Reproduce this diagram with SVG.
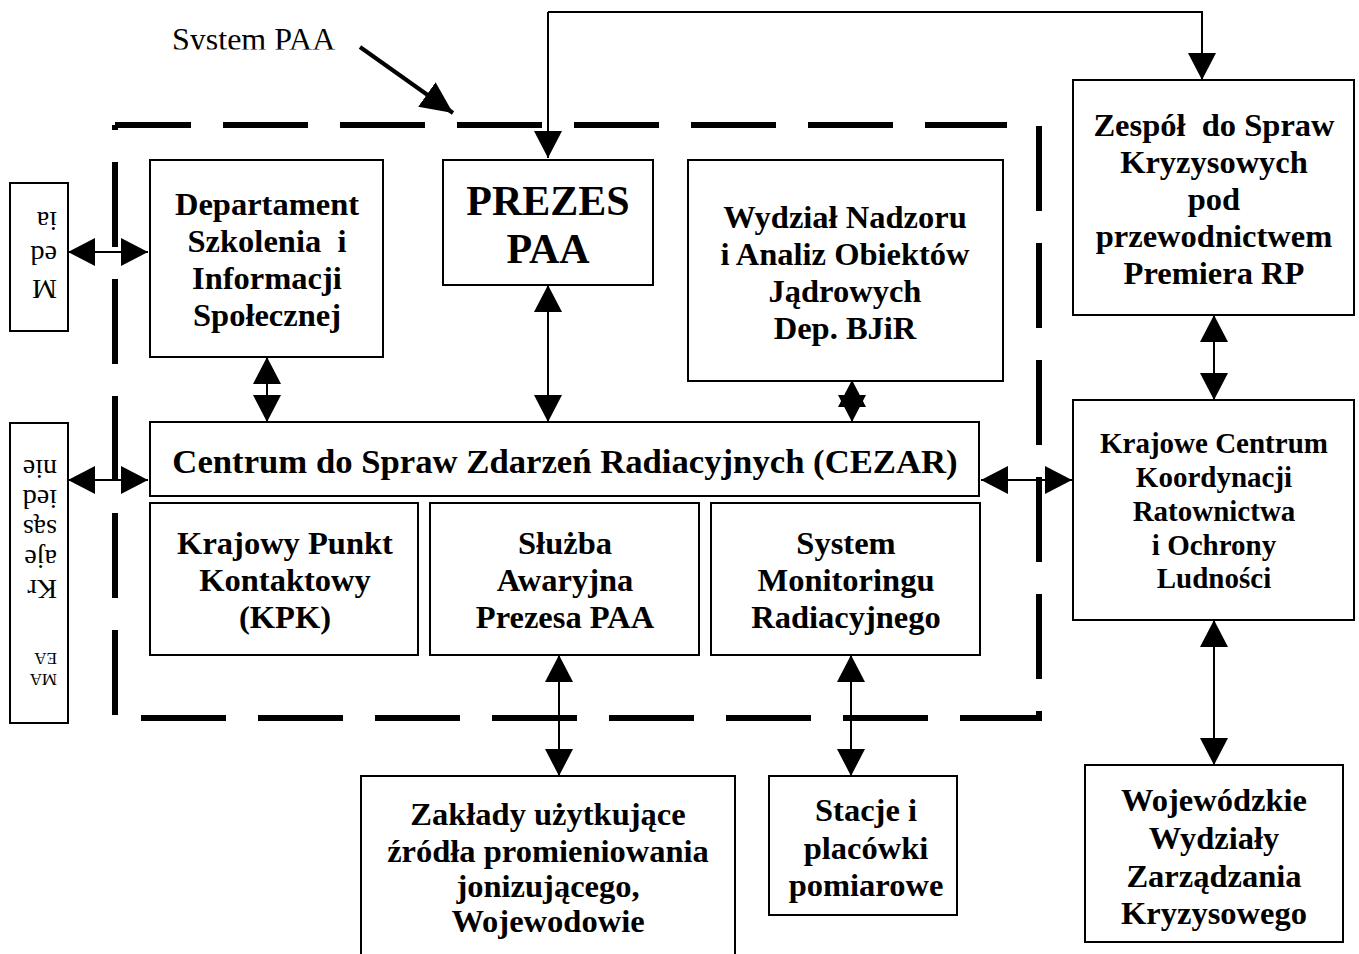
<svg xmlns="http://www.w3.org/2000/svg" width="1359" height="954" viewBox="0 0 1359 954">
<defs>
<style>
.box{fill:#fff;stroke:#000;stroke-width:2}
.t{font-family:"Liberation Serif","Times New Roman",serif;font-weight:bold;font-size:32.5px;text-anchor:middle;fill:#000;white-space:pre}
.r{font-family:"Liberation Serif","Times New Roman",serif;font-size:28px;fill:#000}
.dash{stroke:#000;stroke-width:6;fill:none;stroke-dasharray:85 32}
.c{stroke:#000;stroke-width:2;fill:none}
</style>
<marker id="ah" viewBox="0 0 27 28" refX="27" refY="14" markerWidth="27" markerHeight="28" markerUnits="userSpaceOnUse" orient="auto-start-reverse">
<path d="M0,0 L27,14 L0,28 Z" fill="#000"/>
</marker>
<marker id="ah2" viewBox="0 0 32 30" refX="32" refY="15" markerWidth="32" markerHeight="30" markerUnits="userSpaceOnUse" orient="auto">
<path d="M0,0 L32,15 L0,30 Z" fill="#000"/>
</marker>
<clipPath id="clipLabel"><rect x="150" y="0" width="220" height="49.5"/></clipPath>
</defs>

<g id="system-boundary">
<line class="dash" x1="115" y1="125" x2="1007" y2="125" stroke-dashoffset="9"/>
<line class="dash" x1="115" y1="715" x2="115" y2="125"/>
<line class="dash" x1="1039" y1="126" x2="1039" y2="721"/>
<line class="dash" x1="141" y1="718" x2="1042" y2="718"/>
</g>

<g id="label-system-paa">
<text x="172" y="50" clip-path="url(#clipLabel)" style="font-family:'Liberation Serif','Times New Roman',serif;font-size:32px;fill:#000">System PAA</text>
<line x1="360" y1="47" x2="453" y2="113" stroke="#000" stroke-width="4" marker-end="url(#ah2)"/>
</g>

<g id="connectors">
<path class="c" d="M548,12 V158" marker-end="url(#ah)"/>
<path class="c" d="M548,12 H1202 V80" marker-end="url(#ah)"/>
<line class="c" x1="68" y1="252" x2="148" y2="252" marker-start="url(#ah)" marker-end="url(#ah)"/>
<line class="c" x1="68" y1="480" x2="148" y2="480" marker-start="url(#ah)" marker-end="url(#ah)"/>
<line class="c" x1="267" y1="357" x2="267" y2="422" marker-start="url(#ah)" marker-end="url(#ah)"/>
<line class="c" x1="548" y1="285" x2="548" y2="422" marker-start="url(#ah)" marker-end="url(#ah)"/>
<line class="c" x1="852" y1="380" x2="852" y2="422" marker-start="url(#ah)" marker-end="url(#ah)"/>
<line class="c" x1="981" y1="480" x2="1072" y2="480" marker-start="url(#ah)" marker-end="url(#ah)"/>
<line class="c" x1="1214" y1="315" x2="1214" y2="400" marker-start="url(#ah)" marker-end="url(#ah)"/>
<line class="c" x1="1214" y1="620" x2="1214" y2="765" marker-start="url(#ah)" marker-end="url(#ah)"/>
<line class="c" x1="559" y1="655" x2="559" y2="776" marker-start="url(#ah)" marker-end="url(#ah)"/>
<line class="c" x1="851" y1="655" x2="851" y2="776" marker-start="url(#ah)" marker-end="url(#ah)"/>
</g>

<g id="media">
<rect class="box" x="10" y="183" width="58" height="148"/>
<g transform="rotate(180 39 257)">
<text class="r" x="21" y="234">M</text>
<text class="r" x="21" y="268">ed</text>
<text class="r" x="21" y="302">ia</text>
</g>
</g>

<g id="kraje-sasiednie">
<rect class="box" x="10" y="423" width="58" height="300"/>
<g transform="rotate(180 39 573)">
<text class="r" x="21" y="472" style="font-size:17px">MA</text>
<text class="r" x="21" y="493" style="font-size:17px">EA</text>
<text class="r" x="21" y="566">Kr</text>
<text class="r" x="21" y="596">aje</text>
<text class="r" x="21" y="626">sąs</text>
<text class="r" x="21" y="656">ied</text>
<text class="r" x="21" y="686">nie</text>
</g>
</g>

<g id="departament">
<rect class="box" x="150" y="160" width="233" height="197"/>
<text class="t" x="267" y="215">Departament</text>
<text class="t" x="267" y="252">Szkolenia  i</text>
<text class="t" x="267" y="289">Informacji</text>
<text class="t" x="267" y="326">Społecznej</text>
</g>

<g id="prezes">
<rect class="box" x="443" y="160" width="210" height="125"/>
<text class="t" x="548" y="215" style="font-size:42px">PREZES</text>
<text class="t" x="548" y="263" style="font-size:42px">PAA</text>
</g>

<g id="wydzial">
<rect class="box" x="688" y="160" width="315" height="221"/>
<text class="t" x="845" y="228">Wydział Nadzoru</text>
<text class="t" x="845" y="265">i Analiz Obiektów</text>
<text class="t" x="845" y="302">Jądrowych</text>
<text class="t" x="845" y="339">Dep. BJiR</text>
</g>

<g id="cezar">
<rect class="box" x="150" y="422" width="829" height="74"/>
<text class="t" x="565" y="473" style="font-size:34.7px">Centrum do Spraw Zdarzeń Radiacyjnych (CEZAR)</text>
</g>

<g id="kpk">
<rect class="box" x="150" y="503" width="268" height="152"/>
<text class="t" x="285" y="554">Krajowy Punkt</text>
<text class="t" x="285" y="591">Kontaktowy</text>
<text class="t" x="285" y="628">(KPK)</text>
</g>

<g id="sluzba">
<rect class="box" x="430" y="503" width="269" height="152"/>
<text class="t" x="565" y="554">Służba</text>
<text class="t" x="565" y="591">Awaryjna</text>
<text class="t" x="565" y="628">Prezesa PAA</text>
</g>

<g id="monitoring">
<rect class="box" x="711" y="503" width="269" height="152"/>
<text class="t" x="846" y="554">System</text>
<text class="t" x="846" y="591">Monitoringu</text>
<text class="t" x="846" y="628">Radiacyjnego</text>
</g>

<g id="zespol">
<rect class="box" x="1073" y="80" width="281" height="235"/>
<text class="t" x="1214" y="136">Zespół  do Spraw</text>
<text class="t" x="1214" y="173">Kryzysowych</text>
<text class="t" x="1214" y="210">pod</text>
<text class="t" x="1214" y="247">przewodnictwem</text>
<text class="t" x="1214" y="284">Premiera RP</text>
</g>

<g id="kckr">
<rect class="box" x="1073" y="400" width="281" height="220"/>
<text class="t" x="1214" y="453" style="font-size:29px">Krajowe Centrum</text>
<text class="t" x="1214" y="487" style="font-size:29px">Koordynacji</text>
<text class="t" x="1214" y="521" style="font-size:29px">Ratownictwa</text>
<text class="t" x="1214" y="555" style="font-size:29px">i Ochrony</text>
<text class="t" x="1214" y="588" style="font-size:29px">Ludności</text>
</g>

<g id="wojewodzkie">
<rect class="box" x="1085" y="765" width="258" height="177"/>
<text class="t" x="1214" y="811">Wojewódzkie</text>
<text class="t" x="1214" y="849">Wydziały</text>
<text class="t" x="1214" y="887">Zarządzania</text>
<text class="t" x="1214" y="924">Kryzysowego</text>
</g>

<g id="zaklady">
<path class="c" d="M361,960 V776 H735 V960"/>
<text class="t" x="548" y="825">Zakłady użytkujące</text>
<text class="t" x="548" y="862">źródła promieniowania</text>
<text class="t" x="548" y="897">jonizującego,</text>
<text class="t" x="548" y="932">Wojewodowie</text>
</g>

<g id="stacje">
<rect class="box" x="769" y="776" width="188" height="139"/>
<text class="t" x="866" y="821">Stacje i</text>
<text class="t" x="866" y="859">placówki</text>
<text class="t" x="866" y="896">pomiarowe</text>
</g>
</svg>
